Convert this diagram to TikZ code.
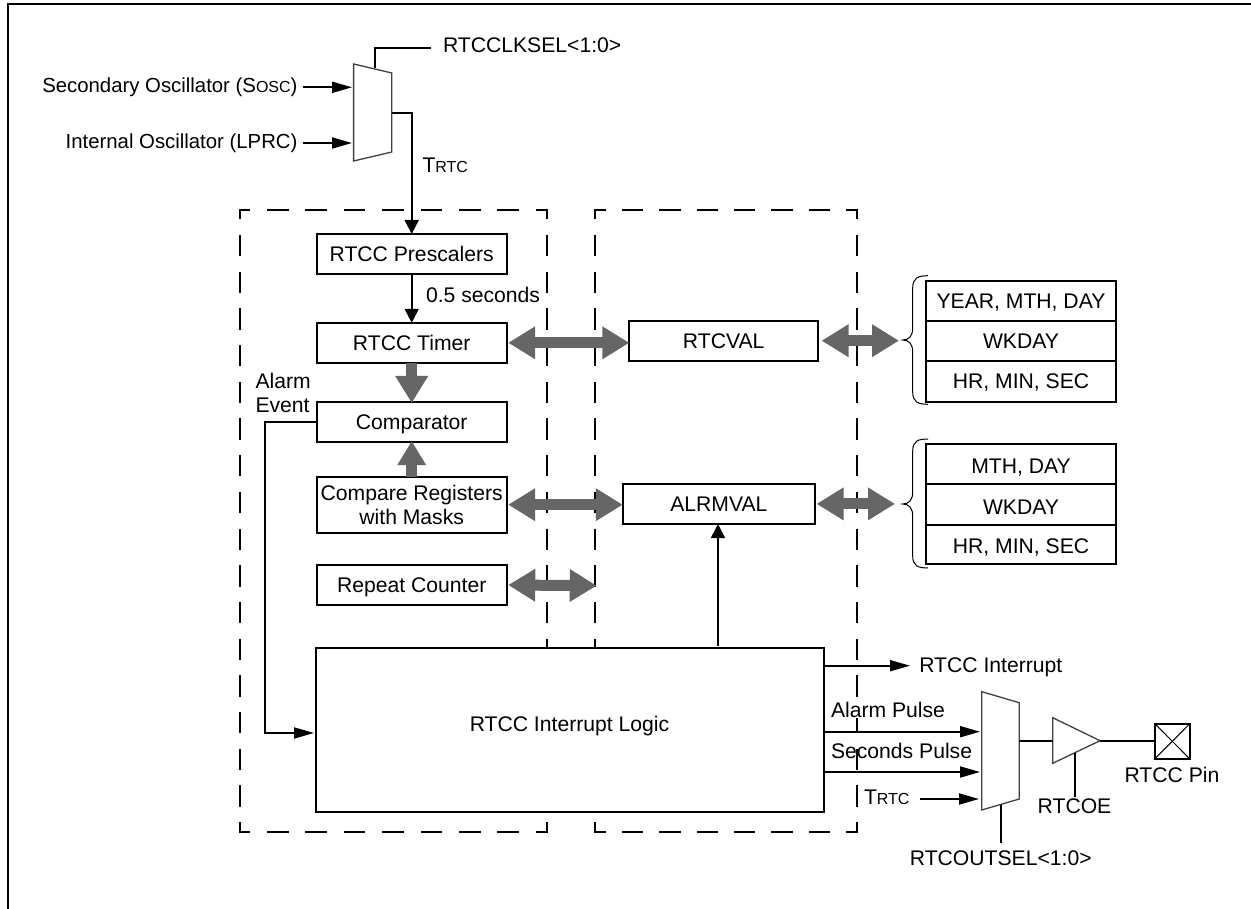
\documentclass[tikz,border=0pt]{standalone}
\usepackage{fontspec}
\setmainfont{Liberation Sans}
\usetikzlibrary{arrows.meta}
\newcommand{\smc}[1]{{\fontsize{16}{16}\selectfont #1}}
\definecolor{busgray}{HTML}{666666}
\tikzset{
  wire/.style={line width=1.9pt,black},
  thin wire/.style={line width=1pt,black},
  sig/.style={wire,-{Triangle[length=20pt,width=11pt]}},
  vsig/.style={wire,-{Triangle[length=14pt,width=14pt]}},
  bus/.style={line width=11pt,busgray},
  busdbl/.style={bus,{Triangle[length=27pt,width=31pt]}-{Triangle[length=27pt,width=31pt]}},
  busdown/.style={bus,-{Triangle[length=27pt,width=31pt]}},
  busup/.style={bus,-{Triangle[length=24pt,width=27pt]}},
  block/.style={draw=black,line width=2pt,fill=white,minimum width=190pt,inner sep=0pt,outer sep=0pt,align=center},
  oneline/.style={text height=15pt,text depth=0pt},
  cell/.style={draw=black,line width=2pt,fill=white,minimum width=190pt,minimum height=40.5pt,inner sep=0pt,outer sep=0pt,oneline},
  lbl/.style={inner sep=0pt,outer sep=0pt,oneline},
  mlbl/.style={inner sep=0pt,outer sep=0pt,align=left},
  mux/.style={draw=black!75,line width=1.3pt,fill=white,line join=miter},
  vdash/.style={line width=2pt,line cap=rect,dash pattern=on 19.3pt off 17.4pt,dash phase=10.8pt},
  hdashL/.style={line width=2pt,line cap=rect,dash pattern=on 19.5pt off 18.9pt,dash phase=10.4pt},
  hdashR/.style={line width=2pt,line cap=rect,dash pattern=on 19.5pt off 17.9pt,dash phase=9.7pt},
  osc/.style={font=\fontsize{20.35}{24}\selectfont},
}
\begin{document}
\begin{tikzpicture}[x=1pt,y=-1pt,font=\fontsize{21.15}{24}\selectfont]
\useasboundingbox (0,0) rectangle (1251,909);
% outer frame
\draw[line width=2pt] (7.9,909) -- (7.9,4) -- (1251,4);

% dashed regions
\coordinate (LTL) at (240,210); \coordinate (LTR) at (547,210);
\coordinate (LBL) at (240,832); \coordinate (LBR) at (547,832);
\coordinate (RTL) at (595,210); \coordinate (RTR) at (856.5,210);
\coordinate (RBL) at (595,832); \coordinate (RBR) at (856.5,832);
\draw[vdash] (LTL) -- (LBL);
\draw[vdash] (LTR) -- (LBR);
\draw[vdash] (RTL) -- (RBL);
\draw[vdash] (RTR) -- (RBR);
\draw[hdashL] (LTL) -- (LTR);
\draw[hdashL] (LBL) -- (LBR);
\draw[hdashR] (RTL) -- (RTR);
\draw[hdashR] (RBL) -- (RBR);

% input mux
\coordinate (m1a) at (353.6,64);
\coordinate (m1b) at (391.8,73);
\coordinate (m1c) at (391.8,152);
\coordinate (m1d) at (353.6,161);
\draw[mux] (m1a) -- (m1b) -- (m1c) -- (m1d) -- cycle;

\node[lbl,anchor=west] (clksel) at (443,45) {RTCCLKSEL<1:0>};
\node[lbl,osc,anchor=east] (sosc) at (297.5,85) {Secondary Oscillator (S\smc{OSC})};
\node[lbl,osc,anchor=east] (lprc) at (297.5,141) {Internal Oscillator (LPRC)};
\node[lbl,anchor=west] (trtca) at (422.5,165) {T\smc{RTC}};
\coordinate (clkstub) at (431,47.7);
\coordinate (clktop) at (375,68.5);
\draw[wire] (clkstub) -- (clktop |- clkstub) -- (clktop);
\coordinate (i1s) at (303,87.3); \coordinate (i1e) at (352,87.3);
\coordinate (i2s) at (303,143); \coordinate (i2e) at (352,143);
\draw[sig] (i1s) -- (i1e);
\draw[sig] (i2s) -- (i2e);

% left column
\node[block,oneline,minimum height=40pt] (pres) at (411.7,254) {RTCC Prescalers};
\node[block,oneline,minimum height=40pt] (timer) at (411.7,342.8) {RTCC Timer};
\node[block,oneline,minimum height=40pt] (comp) at (411.7,422) {Comparator};
\node[block,minimum height=56pt] (regs) at (411.7,504.7) {Compare Registers\\with Masks};
\node[block,oneline,minimum height=40pt] (rept) at (411.7,585) {Repeat Counter};

\coordinate (m1out) at (391.8,113);
\draw[vsig] (m1out) -| (pres.north);
\draw[vsig] (pres.south) -- (timer.north);
\node[lbl,anchor=west] (half) at (426,295) {0.5 seconds};
\draw[busdown] (timer.south) -- ([yshift=-1pt]comp.north);
\draw[busup] (regs.north) -- ([yshift=1pt]comp.south);
\node[mlbl,anchor=west] (alarm) at (255.5,393) {Alarm\\Event};

% middle column
\node[block,oneline,minimum width=188.7pt,minimum height=40pt] (rtcval) at (723.7,340.7) {RTCVAL};
\node[block,oneline,minimum width=192.3pt,minimum height=40.3pt] (alrm) at (718.9,503.9) {ALRMVAL};

% interrupt logic
\node[block,minimum width=508pt,minimum height=164.2pt,text height=15pt,text depth=11.6pt] (logic) at (569.5,729.8) {RTCC Interrupt Logic};

\coordinate (alrmfoot) at (718,645.7);
\draw[vsig] (alrmfoot) -- (alrmfoot |- alrm.south);
\coordinate (logicin) at (314,733);
\draw[sig] (comp.west) -| (265,733) -- (logicin);

% buses
\draw[busdbl] ([xshift=1.5pt]timer.east) -- (rtcval.west |- timer.east);
\draw[busdbl] ([xshift=1.5pt]regs.east) -- (alrm.west |- regs.east);
\coordinate (repend) at (596.7,585.7);
\draw[busdbl] ([xshift=1.5pt]rept.east) -- (repend);
\coordinate (bb1) at (899,340.7);
\coordinate (bb2) at (895,503.9);
\draw[busdbl] ([xshift=3.5pt]rtcval.east) -- (bb1);
\draw[busdbl] ([xshift=1.5pt]alrm.east) -- (bb2);

% register tables
\node[cell,minimum height=40.3pt] (y1) at (1021,300.9) {YEAR, MTH, DAY};
\node[cell,minimum height=39.7pt] (y2) at (1021,340.9) {WKDAY};
\node[cell,minimum height=41pt] (y3) at (1021,381.2) {HR, MIN, SEC};
\node[cell,minimum height=40.3pt,text height=19pt] (a1) at (1021,463.9) {MTH, DAY};
\node[cell,minimum height=41pt,text height=19pt] (a2) at (1021,504.5) {WKDAY};
\node[cell,minimum height=39.3pt,text height=17pt] (a3) at (1021,544.7) {HR, MIN, SEC};

% braces
\coordinate (br1) at (902.7,340);
\coordinate (br2) at (902.7,504);
\draw[thin wire] (928,275.7) .. controls (918,275.7) and (912.7,278) .. (912.7,288) -- (912.7,328)
  .. controls (912.7,336) and (909,340) .. (br1)
  .. controls (909,340) and (912.7,344) .. (912.7,352) -- (912.7,392)
  .. controls (912.7,402) and (918,404.3) .. (928,404.3);
\draw[thin wire] (928,439) .. controls (918,439) and (912.7,441) .. (912.7,451) -- (912.7,492)
  .. controls (912.7,500) and (909,504) .. (br2)
  .. controls (909,504) and (912.7,508) .. (912.7,516) -- (912.7,556)
  .. controls (912.7,566) and (918,568) .. (928,568);

% output side
\coordinate (m2a) at (981.7,691.7);
\coordinate (m2b) at (1019.3,702.7);
\coordinate (m2c) at (1019.3,799);
\coordinate (m2d) at (981.7,810);
\draw[mux] (m2a) -- (m2b) -- (m2c) -- (m2d) -- cycle;

\coordinate (irqs) at (823.5,665.7); \coordinate (irqe) at (910,665.7);
\draw[sig] (irqs) -- (irqe);
\node[lbl,anchor=west] (irq) at (919.3,665) {RTCC Interrupt};

\node[lbl,anchor=west,fill=white] (apul) at (831,710) {Alarm Pulse};
\node[lbl,anchor=west] (spul) at (831,750.7) {Seconds Pulse};
\node[lbl,anchor=west] (trtcb) at (864,797) {T\smc{RTC}};
\coordinate (a1s) at (823.5,731.7); \coordinate (a1e) at (980,731.7);
\coordinate (a2s) at (823.5,772); \coordinate (a2e) at (980,772);
\coordinate (a3s) at (920.3,799); \coordinate (a3e) at (979,799);
\draw[sig] (a1s) -- (a1e);
\draw[sig] (a2s) -- (a2e);
\draw[sig] (a3s) -- (a3e);

\coordinate (bufa) at (1052.7,717.7);
\coordinate (bufb) at (1052.7,763.3);
\coordinate (bufc) at (1100,740.7);
\draw[mux] (bufa) -- (bufc) -- (bufb) -- cycle;
\coordinate (m2out) at (1019.3,740.7);
\draw[wire] (m2out) -- (bufa |- m2out);

\node[draw=black,line width=2pt,minimum width=34.5pt,minimum height=34.7pt,inner sep=0pt,outer sep=0pt] (pin) at (1172.3,741.3) {};
\draw[thin wire] (pin.north west) -- (pin.south east);
\draw[thin wire] (pin.north east) -- (pin.south west);
\draw[wire] (bufc) -- (pin.west |- bufc);
\node[lbl] (pinl) at (1172,775) {RTCC Pin};

\node[lbl] (oe) at (1074.5,806) {RTCOE};
\coordinate (oetop) at (1075,752.5); \coordinate (oebot) at (1075,797);
\draw[wire] (oetop) -- (oebot);
\coordinate (seltop) at (1000.7,805); \coordinate (selbot) at (1000.7,842.7);
\draw[wire] (seltop) -- (selbot);
\node[lbl] (sel) at (1000.8,858) {RTCOUTSEL<1:0>};
\end{tikzpicture}
\end{document}
